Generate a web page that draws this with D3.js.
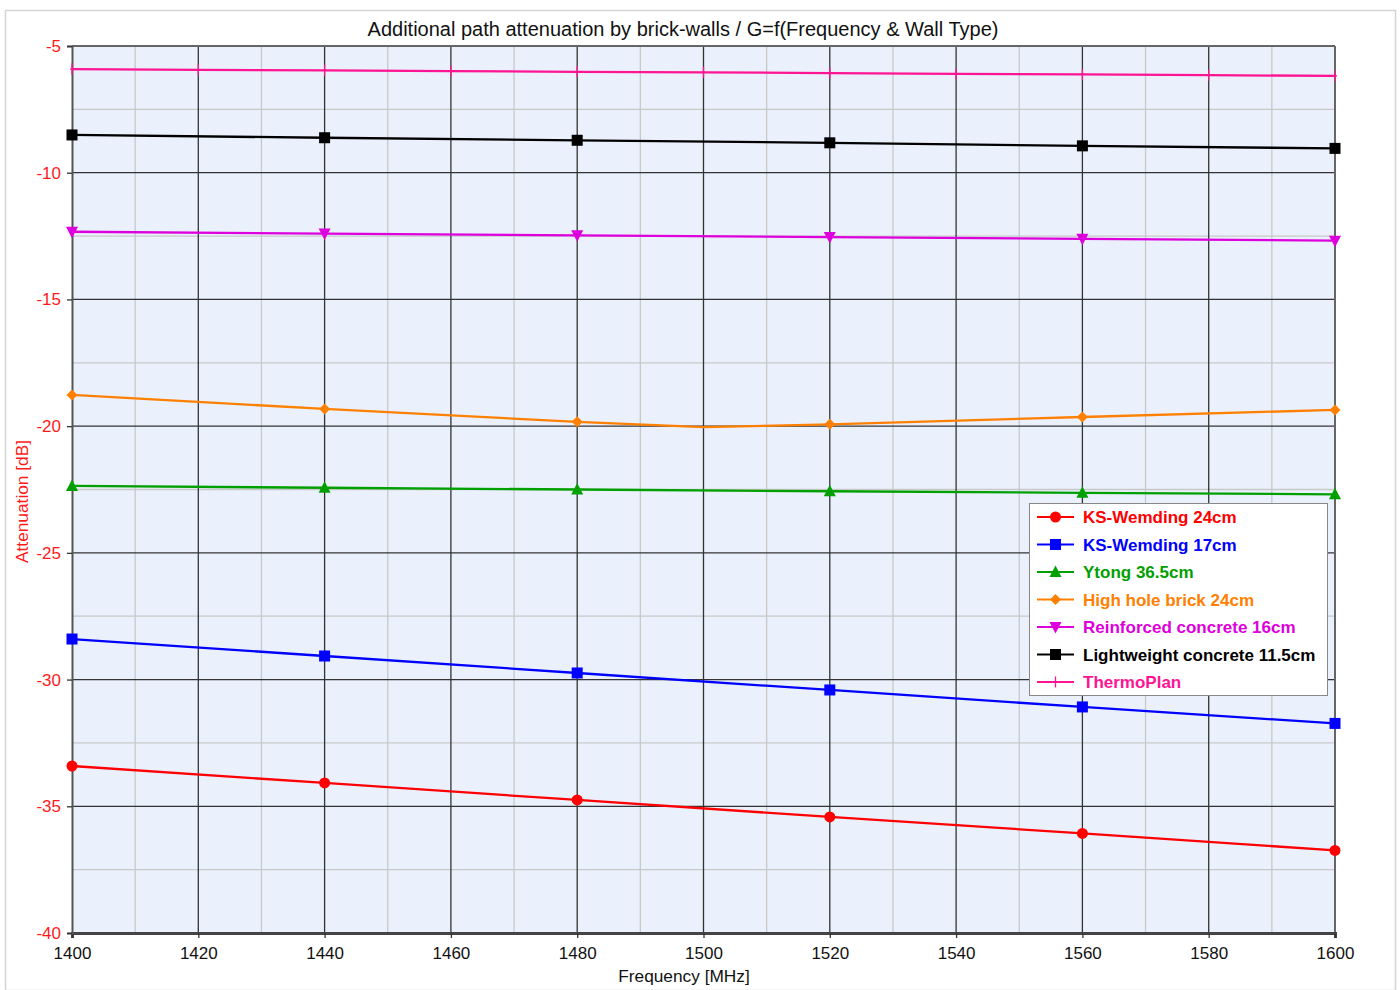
<!DOCTYPE html>
<html>
<head>
<meta charset="utf-8">
<script src="https://cdn.jsdelivr.net/npm/d3@7/dist/d3.min.js"></script>
<style>
  html, body { margin: 0; padding: 0; background: #ffffff; }
  svg { display: block; font-family: "Liberation Sans", Arial, sans-serif; }
</style>
</head>
<body>
<svg id="chart" width="1400" height="990"></svg>
<script>
// ---------------- Data ----------------
const chartTitle = "Additional path attenuation by brick-walls / G=f(Frequency & Wall Type)";
const xAxisTitle = "Frequency [MHz]";
const yAxisTitle = "Attenuation [dB]";

const xTicks = [1400, 1420, 1440, 1460, 1480, 1500, 1520, 1540, 1560, 1580, 1600];
const yTicks = [-5, -10, -15, -20, -25, -30, -35, -40];

const freqMain   = [1400, 1440, 1480, 1520, 1560, 1600];
const freqBrick  = [1400, 1440, 1480, 1500, 1520, 1560, 1600];
const freqThermo = [1400, 1420, 1440, 1460, 1480, 1500, 1520, 1540, 1560, 1580, 1600];

const ksWemding24   = [-33.41, -34.08, -34.75, -35.42, -36.07, -36.74];
const ksWemding17   = [-28.40, -29.07, -29.74, -30.41, -31.08, -31.73];
const ytong365      = [-22.36, -22.43, -22.50, -22.57, -22.63, -22.69];
const highHole24    = [-18.77, -19.32, -19.83, -20.04, -19.93, -19.64, -19.36];
const reinforced16  = [-12.33, -12.40, -12.47, -12.54, -12.61, -12.68];
const lightweight115= [-8.51, -8.62, -8.72, -8.82, -8.94, -9.04];
const thermoPlan    = [-5.91, -5.94, -5.96, -5.99, -6.02, -6.04, -6.07, -6.10, -6.12, -6.15, -6.18];

const seriesNames  = ["KS-Wemding 24cm", "KS-Wemding 17cm", "Ytong 36.5cm", "High hole brick 24cm",
                      "Reinforced concrete 16cm", "Lightweight concrete 11.5cm", "ThermoPlan"];
const seriesColors = ["#ff0000", "#0000ff", "#00a000", "#ff8000", "#dd00dd", "#000000", "#ff1493"];
const seriesSymbols= ["circle", "square", "triangle", "diamond", "triangleDown", "square", "plus"];
const seriesFreqs  = [freqMain, freqMain, freqMain, freqBrick, freqMain, freqMain, freqThermo];
const seriesValues = [ksWemding24, ksWemding17, ytong365, highHole24, reinforced16, lightweight115, thermoPlan];
const markerFreqs  = [freqMain, freqMain, freqMain, freqMain, freqMain, freqMain, freqThermo];

// ---------------- Layout ----------------
const svg = d3.select("#chart");
const plot = { left: 72, right: 1335, top: 46, bottom: 933 };

const x = d3.scaleLinear().domain([1400, 1600]).range([plot.left, plot.right]);
const y = d3.scaleLinear().domain([-40, -5]).range([plot.bottom, plot.top]);

// outer frame
svg.append("rect").attr("x", 5.5).attr("y", 10.5).attr("width", 1390).attr("height", 980)
  .attr("fill", "#ffffff").attr("stroke", "#d4d4d4").attr("stroke-width", 1.5);

// plot background
svg.append("rect").attr("x", plot.left).attr("y", plot.top)
  .attr("width", plot.right - plot.left).attr("height", plot.bottom - plot.top)
  .attr("fill", "#eaf1fd");

// minor grid
const xMinor = d3.range(1410, 1600, 20);
const yMinor = d3.range(-37.5, -5, 5);
const g = svg.append("g");
g.selectAll(".xminor").data(xMinor).join("line")
  .attr("x1", d => x(d)).attr("x2", d => x(d)).attr("y1", plot.top).attr("y2", plot.bottom)
  .attr("stroke", "#c8c8c8").attr("stroke-width", 1.3);
g.selectAll(".yminor").data(yMinor).join("line")
  .attr("y1", d => y(d)).attr("y2", d => y(d)).attr("x1", plot.left).attr("x2", plot.right)
  .attr("stroke", "#c8c8c8").attr("stroke-width", 1.3);
// major grid
g.selectAll(".xmajor").data(xTicks.slice(1, -1)).join("line")
  .attr("x1", d => x(d)).attr("x2", d => x(d)).attr("y1", plot.top).attr("y2", plot.bottom)
  .attr("stroke", "#333333").attr("stroke-width", 1.3);
g.selectAll(".ymajor").data(yTicks.slice(1, -1)).join("line")
  .attr("y1", d => y(d)).attr("y2", d => y(d)).attr("x1", plot.left).attr("x2", plot.right)
  .attr("stroke", "#333333").attr("stroke-width", 1.3);

// plot frame top/right
svg.append("line").attr("x1", plot.left).attr("x2", plot.right).attr("y1", plot.top).attr("y2", plot.top)
  .attr("stroke", "#666666").attr("stroke-width", 2);
svg.append("line").attr("x1", plot.right).attr("x2", plot.right).attr("y1", plot.top).attr("y2", plot.bottom)
  .attr("stroke", "#666666").attr("stroke-width", 2);

// axes
const xAxis = d3.axisBottom(x).tickValues(xTicks).tickSize(5).tickPadding(9).tickFormat(d3.format("d"));
const yAxis = d3.axisLeft(y).tickValues(yTicks).tickSize(5).tickPadding(6).tickFormat(d => String(d));

const gx = svg.append("g").attr("transform", `translate(0,${plot.bottom})`).call(xAxis);
gx.select(".domain").attr("stroke", "#444444").attr("stroke-width", 3);
gx.selectAll(".tick line").attr("stroke", "#333333").attr("stroke-width", 1.3);
gx.selectAll(".tick text").attr("fill", "#111111").attr("font-size", 17)
  .attr("font-family", "Liberation Sans, Arial, sans-serif");

const gy = svg.append("g").attr("transform", `translate(${plot.left},0)`).call(yAxis);
gy.select(".domain").attr("stroke", "#555555").attr("stroke-width", 2);
gy.selectAll(".tick line").attr("stroke", "#333333").attr("stroke-width", 1.3);
gy.selectAll(".tick text").attr("fill", "#ff1a1a").attr("font-size", 17)
  .attr("font-family", "Liberation Sans, Arial, sans-serif");

// titles
svg.append("text").attr("x", 683).attr("y", 36).attr("text-anchor", "middle")
  .attr("font-size", 20).attr("fill", "#111111").text(chartTitle);
svg.append("text").attr("x", 684).attr("y", 982).attr("text-anchor", "middle")
  .attr("font-size", 17.3).attr("fill", "#111111").text(xAxisTitle);
svg.append("text").attr("transform", `translate(28,${(plot.top + plot.bottom) / 2 + 12}) rotate(-90)`)
  .attr("text-anchor", "middle").attr("font-size", 17.3).attr("fill", "#ff1a1a").text(yAxisTitle);

// symbol drawing
function drawSymbol(sel, type, cx, cy, color) {
  const gs = sel.append("g").attr("transform", `translate(${cx},${cy})`);
  if (type === "circle") {
    gs.append("circle").attr("r", 5.5).attr("fill", color);
  } else if (type === "square") {
    gs.append("rect").attr("x", -5.5).attr("y", -5.5).attr("width", 11).attr("height", 11).attr("fill", color);
  } else if (type === "triangle") {
    gs.append("path").attr("d", "M0,-6.5L6,5L-6,5Z").attr("fill", color);
  } else if (type === "triangleDown") {
    gs.append("path").attr("d", "M0,6.5L6,-5L-6,-5Z").attr("fill", color);
  } else if (type === "diamond") {
    gs.append("path").attr("d", "M0,-5.5L5.5,0L0,5.5L-5.5,0Z").attr("fill", color);
  } else if (type === "plus") {
    gs.append("path").attr("d", "M-2,0H2M0,-5.5V5.5").attr("stroke", color).attr("stroke-width", 1.3);
  }
}

// series
const line = d3.line().x(d => x(d[0])).y(d => y(d[1]));
const gSeries = svg.append("g");
seriesNames.forEach((name, i) => {
  const pts = seriesFreqs[i].map((f, j) => [f, seriesValues[i][j]]);
  gSeries.append("path").datum(pts).attr("d", line)
    .attr("fill", "none").attr("stroke", seriesColors[i]).attr("stroke-width", 2.3);
  pts.filter(p => markerFreqs[i].includes(p[0])).forEach(p => {
    drawSymbol(gSeries, seriesSymbols[i], x(p[0]), y(p[1]), seriesColors[i]);
  });
});

// legend
const lg = svg.append("g");
const L = { x: 1029, y: 503, w: 298, h: 192 };
lg.append("rect").attr("x", L.x + 0.5).attr("y", L.y + 0.5).attr("width", L.w).attr("height", L.h)
  .attr("fill", "#ffffff").attr("stroke", "#888888").attr("stroke-width", 1);
seriesNames.forEach((name, i) => {
  const cy = 517 + i * 27.5;
  lg.append("line").attr("x1", 1037).attr("x2", 1074).attr("y1", cy).attr("y2", cy)
    .attr("stroke", seriesColors[i]).attr("stroke-width", 2);
  drawSymbol(lg, seriesSymbols[i], 1055.5, cy, seriesColors[i]);
  lg.append("text").attr("x", 1083).attr("y", cy + 6).attr("font-size", 17)
    .attr("font-weight", "bold").attr("fill", seriesColors[i]).text(name);
});
</script>
</body>
</html>
